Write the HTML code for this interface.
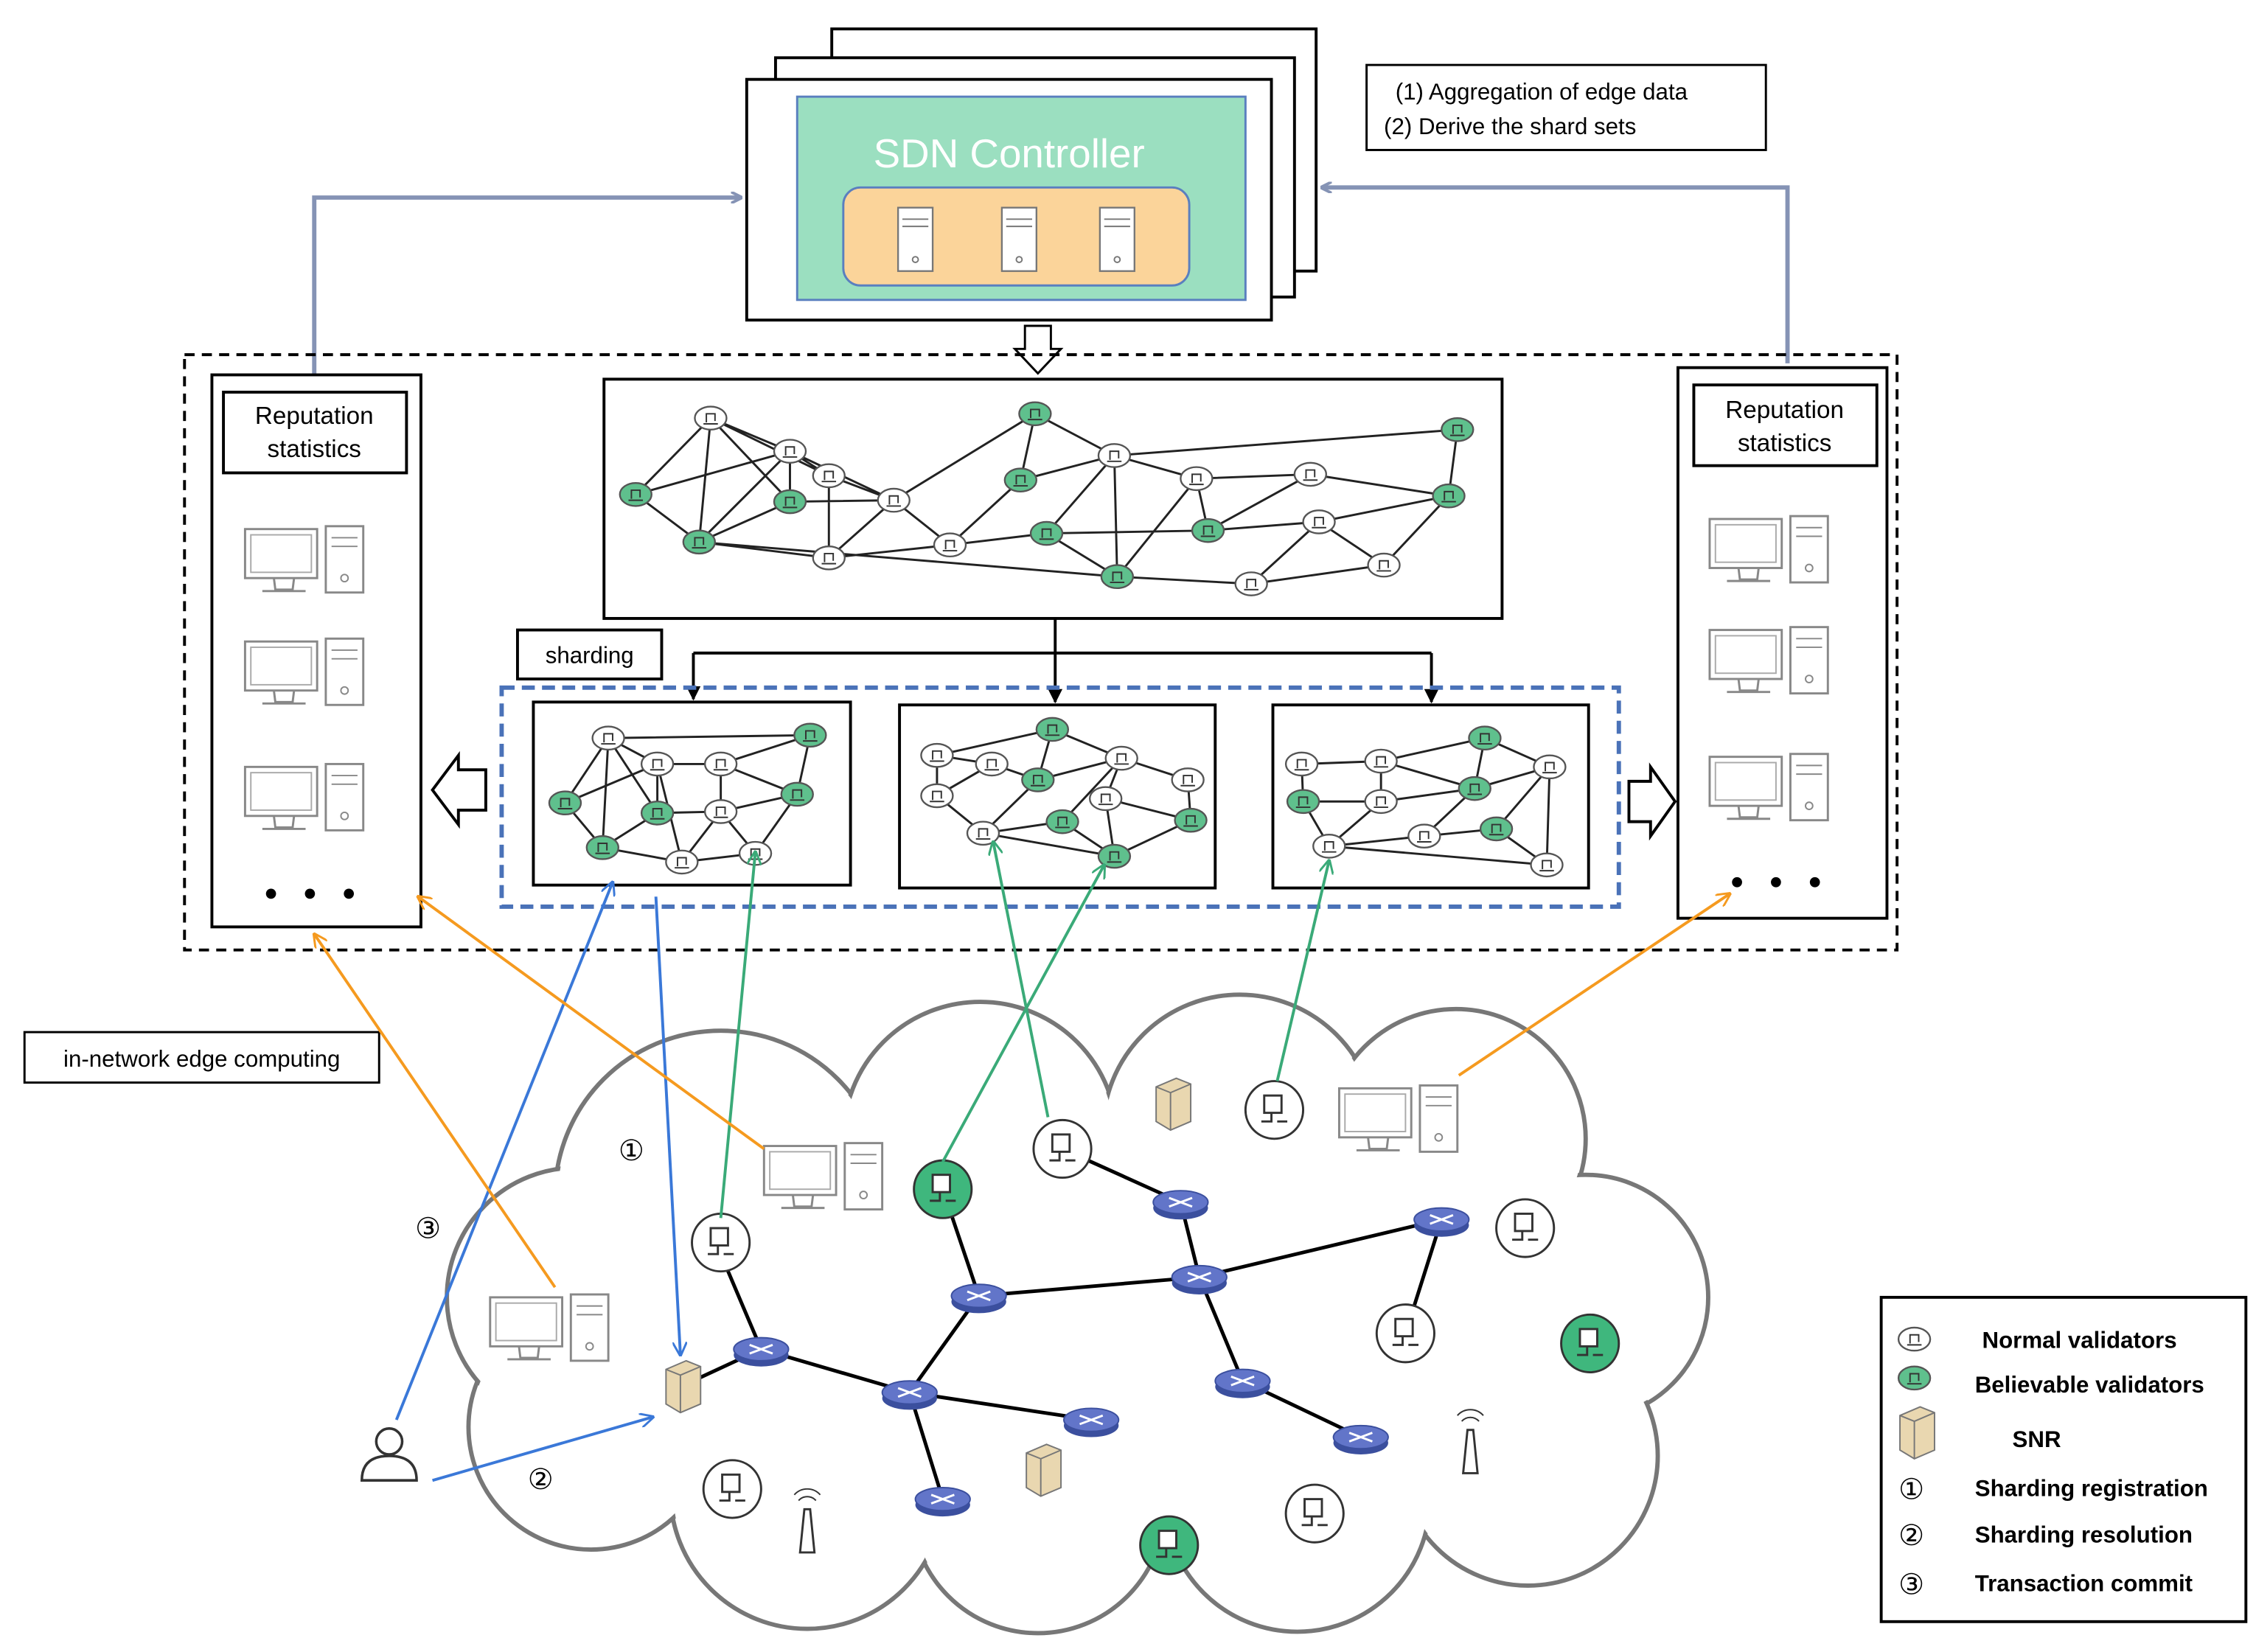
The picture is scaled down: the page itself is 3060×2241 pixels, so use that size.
<!DOCTYPE html>
<html><head><meta charset="utf-8"><style>
html,body{margin:0;padding:0;background:#fff}
svg{display:block}
text{font-family:"Liberation Sans",Arial,sans-serif}
</style></head><body>
<svg width="3060" height="2241" viewBox="0 0 1565 1146" xmlns="http://www.w3.org/2000/svg">
<defs>
<marker id="ag" markerWidth="8" markerHeight="8" refX="7" refY="4" orient="auto" markerUnits="userSpaceOnUse"><path d="M0,0 L8,4 L0,8" fill="none" stroke="#8593b5" stroke-width="2"/></marker>
<marker id="ab" markerWidth="10" markerHeight="10" refX="9" refY="5" orient="auto" markerUnits="userSpaceOnUse"><path d="M0,0 L10,5 L0,10" fill="none" stroke="#3a78d8" stroke-width="1.5"/></marker>
<marker id="agr" markerWidth="10" markerHeight="10" refX="9" refY="5" orient="auto" markerUnits="userSpaceOnUse"><path d="M0,0 L10,5 L0,10" fill="none" stroke="#3aaa78" stroke-width="1.5"/></marker>
<marker id="ao" markerWidth="10" markerHeight="10" refX="9" refY="5" orient="auto" markerUnits="userSpaceOnUse"><path d="M0,0 L10,5 L0,10" fill="none" stroke="#f59a1f" stroke-width="1.5"/></marker>
<marker id="ak" markerWidth="10" markerHeight="10" refX="9" refY="5" orient="auto" markerUnits="userSpaceOnUse"><path d="M0,0 L10,5 L0,10 Z" fill="#000"/></marker>
<g id="srv"><rect x="-12" y="-22" width="24" height="44" fill="#fff" stroke="#777" stroke-width="1.2"/><line x1="-9" y1="-14" x2="9" y2="-14" stroke="#777"/><line x1="-9" y1="-9" x2="9" y2="-9" stroke="#777"/><circle cx="0" cy="14" r="2" fill="none" stroke="#777"/></g>
<g id="pc"><rect x="-38" y="-20" width="50" height="34" fill="#fff" stroke="#888" stroke-width="1.5"/><rect x="-34" y="-16" width="42" height="26" fill="none" stroke="#aaa"/><path d="M-18,14 L-17,22 L-5,22 L-4,14 M-26,23 L4,23" fill="none" stroke="#888" stroke-width="1.5"/><rect x="18" y="-22" width="26" height="46" fill="#fff" stroke="#888" stroke-width="1.5"/><line x1="22" y1="-14" x2="40" y2="-14" stroke="#888"/><line x1="22" y1="-8" x2="40" y2="-8" stroke="#888"/><circle cx="31" cy="14" r="2.5" fill="none" stroke="#888"/></g>
<g id="nn"><ellipse rx="11" ry="8" fill="#fff" stroke="#555" stroke-width="1.2"/><path d="M-3,3 L-3,-3 L3,-3 L3,2 M-5,4 L5,4" fill="none" stroke="#333"/></g>
<g id="gn"><ellipse rx="11" ry="8" fill="#5fc08d" stroke="#555" stroke-width="1.2"/><path d="M-3,3 L-3,-3 L3,-3 L3,2 M-5,4 L5,4" fill="none" stroke="#333"/></g>
<g id="cn"><circle r="20" fill="#fff" stroke="#333" stroke-width="1.5"/><rect x="-7" y="-10" width="12" height="12" fill="#fff" stroke="#333" stroke-width="1.5"/><path d="M-2,2 L-2,8 L-9,8 M2,8 L9,8" fill="none" stroke="#333" stroke-width="1.5"/></g>
<g id="cg"><circle r="20" fill="#3fb77d" stroke="#333" stroke-width="1.5"/><rect x="-7" y="-10" width="12" height="12" fill="#fff" stroke="#333" stroke-width="1.5"/><path d="M-2,2 L-2,8 L-9,8 M2,8 L9,8" fill="none" stroke="#333" stroke-width="1.5"/></g>
<g id="rt"><ellipse cx="0" cy="4" rx="19" ry="8" fill="#3b4f9e"/><ellipse cx="0" cy="0" rx="19" ry="8" fill="#6275c9" stroke="#3b4f9e"/><path d="M-8,-3 L8,3 M-8,3 L8,-3" stroke="#fff" stroke-width="1.5"/></g>
<g id="snr"><path d="M-10,-12 L4,-18 L14,-14 L14,12 L0,18 L-10,12 Z" fill="#e9d7b0" stroke="#777"/><path d="M-10,-12 L0,-8 L14,-14 M0,-8 L0,18" fill="none" stroke="#777"/></g>
<g id="ant"><path d="M-5,22 L-2,-8 L2,-8 L5,22 Z" fill="#fff" stroke="#333" stroke-width="1.5"/><path d="M-6,-14 A8,8 0 0 1 6,-14 M-9,-18 A12,12 0 0 1 9,-18" fill="none" stroke="#333"/></g>
</defs>

<rect x="577" y="20" width="336" height="168" fill="#fff" stroke="#000" stroke-width="2"/>
<rect x="538" y="40" width="360" height="166" fill="#fff" stroke="#000" stroke-width="2"/>
<rect x="518" y="55" width="364" height="167" fill="#fff" stroke="#000" stroke-width="2"/>
<rect x="553" y="67" width="311" height="141" fill="#9bdfc0" stroke="#5a7fbf" stroke-width="1.5"/>
<text x="700" y="116" font-size="28" fill="#fff" text-anchor="middle">SDN Controller</text>
<rect x="585" y="130" width="240" height="68" rx="12" fill="#fbd49a" stroke="#5a7fbf" stroke-width="1.5"/>
<use href="#srv" x="635" y="166"/><use href="#srv" x="707" y="166"/><use href="#srv" x="775" y="166"/>

<rect x="948" y="45" width="277" height="59" fill="#fff" stroke="#000" stroke-width="1.5"/>
<text x="968" y="69" font-size="16">(1)  Aggregation of edge data</text>
<text x="960" y="93" font-size="16">(2)   Derive the shard sets</text>

<path d="M218,262 L218,137 L514,137" fill="none" stroke="#8593b5" stroke-width="3" marker-end="url(#ag)"/>
<path d="M1240,252 L1240,130 L917,130" fill="none" stroke="#8593b5" stroke-width="3" marker-end="url(#ag)"/>
<path d="M711,226 L729,226 L729,242 L736,242 L720,259 L704,242 L711,242 Z" fill="#fff" stroke="#000" stroke-width="1.5"/>

<rect x="128" y="246" width="1188" height="413" fill="none" stroke="#000" stroke-width="2" stroke-dasharray="7,5"/>

<rect x="147" y="260" width="145" height="383" fill="#fff" stroke="#000" stroke-width="2"/>
<rect x="155" y="272" width="127" height="56" fill="#fff" stroke="#000" stroke-width="2"/>
<text x="218" y="294" font-size="17" text-anchor="middle">Reputation</text>
<text x="218" y="317" font-size="17" text-anchor="middle">statistics</text>
<use href="#pc" x="208" y="387"/><use href="#pc" x="208" y="465"/><use href="#pc" x="208" y="552"/>
<circle cx="188" cy="620" r="3.5"/><circle cx="215" cy="620" r="3.5"/><circle cx="242" cy="620" r="3.5"/>
<rect x="1164" y="255" width="145" height="382" fill="#fff" stroke="#000" stroke-width="2"/>
<rect x="1175" y="267" width="127" height="56" fill="#fff" stroke="#000" stroke-width="2"/>
<text x="1238" y="290" font-size="17" text-anchor="middle">Reputation</text>
<text x="1238" y="313" font-size="17" text-anchor="middle">statistics</text>
<use href="#pc" x="1224" y="380"/><use href="#pc" x="1224" y="457"/><use href="#pc" x="1224" y="545"/>
<circle cx="1205" cy="612" r="3.5"/><circle cx="1232" cy="612" r="3.5"/><circle cx="1259" cy="612" r="3.5"/>

<rect x="419" y="263" width="623" height="166" fill="#fff" stroke="#000" stroke-width="2"/>
<g stroke="#222" stroke-width="1.5">
<path d="M493,290L441,343M493,290L485,376M493,290L548,313M493,290L548,348M493,290L575,330M441,343L485,376M441,343L548,313M485,376L548,348M485,376L575,387M485,376L548,313M548,313L548,348M548,313L575,330M548,313L620,347M548,348L620,347M575,330L620,347M620,347L718,287M620,347L659,378M575,387L620,347M575,387L659,378M659,378L708,333M659,378L726,370M718,287L708,333M718,287L773,316M708,333L773,316M726,370L773,316M773,316L775,400M773,316L830,332M775,400L726,370M775,400L868,405M775,400L830,332M830,332L838,368M830,332L909,329M838,368L915,362M838,368L909,329M915,362L868,405M915,362L960,392M915,362L1005,344M909,329L1005,344M868,405L960,392M960,392L1005,344M1005,344L1011,298M773,316L1011,298M485,376L775,400M575,387L575,330M726,370L838,368"/>
</g>
<use href="#nn" x="493" y="290"/><use href="#gn" x="441" y="343"/><use href="#gn" x="485" y="376"/><use href="#nn" x="548" y="313"/><use href="#gn" x="548" y="348"/><use href="#nn" x="575" y="330"/><use href="#nn" x="620" y="347"/><use href="#nn" x="575" y="387"/><use href="#nn" x="659" y="378"/><use href="#gn" x="718" y="287"/><use href="#gn" x="708" y="333"/><use href="#gn" x="726" y="370"/><use href="#nn" x="773" y="316"/><use href="#gn" x="775" y="400"/><use href="#nn" x="830" y="332"/><use href="#gn" x="838" y="368"/><use href="#nn" x="909" y="329"/><use href="#nn" x="915" y="362"/><use href="#nn" x="868" y="405"/><use href="#nn" x="960" y="392"/><use href="#gn" x="1005" y="344"/><use href="#gn" x="1011" y="298"/>

<rect x="359" y="437" width="100" height="34" fill="#fff" stroke="#000" stroke-width="2"/>
<text x="409" y="460" font-size="16" text-anchor="middle">sharding</text>
<path d="M732,429 L732,453 M481,453 L993,453" stroke="#000" stroke-width="2" fill="none"/>
<path d="M481,453 L481,485" stroke="#000" stroke-width="2" marker-end="url(#ak)"/>
<path d="M732,453 L732,487" stroke="#000" stroke-width="2" marker-end="url(#ak)"/>
<path d="M993,453 L993,487" stroke="#000" stroke-width="2" marker-end="url(#ak)"/>
<rect x="348" y="477" width="775" height="152" fill="none" stroke="#4a72b8" stroke-width="3" stroke-dasharray="9,5"/>
<rect x="370" y="487" width="220" height="127" fill="#fff" stroke="#000" stroke-width="2"/>
<rect x="624" y="489" width="219" height="127" fill="#fff" stroke="#000" stroke-width="2"/>
<rect x="883" y="489" width="219" height="127" fill="#fff" stroke="#000" stroke-width="2"/>
<g stroke="#222" stroke-width="1.5">
<path d="M422,512L562,510M422,512L392,557M422,512L456,530M422,512L418,588M422,512L456,564M562,510L500,530M562,510L553,551M392,557L456,530M392,557L418,588M456,530L500,530M456,530L456,564M456,530L473,598M500,530L500,563M500,530L553,551M456,564L500,563M456,564L418,588M500,563L553,551M500,563L524,592M500,563L473,598M418,588L473,598M473,598L524,592M553,551L524,592"/>
<path d="M730,506L650,524M730,506L778,526M730,506L720,541M650,524L688,530M650,524L650,552M688,530L720,541M688,530L650,552M720,541L778,526M778,526L824,541M778,526L767,554M778,526L737,570M824,541L826,569M650,552L682,578M720,541L682,578M767,554L773,594M737,570L682,578M737,570L773,594M826,569L773,594M682,578L773,594M767,554L826,569"/>
<path d="M903,530L958,528M958,528L1030,512M1030,512L1075,532M903,530L904,556M958,528L958,556M958,528L1023,547M904,556L958,556M904,556L922,587M958,556L922,587M958,556L1023,547M1023,547L1075,532M1023,547L988,580M1075,532L1038,575M1075,532L1073,600M922,587L988,580M922,587L1073,600M988,580L1038,575M1038,575L1073,600M1030,512L1023,547"/>
</g>
<use href="#nn" x="422" y="512"/><use href="#gn" x="562" y="510"/><use href="#gn" x="392" y="557"/><use href="#nn" x="456" y="530"/><use href="#nn" x="500" y="530"/><use href="#gn" x="456" y="564"/><use href="#nn" x="500" y="563"/><use href="#gn" x="553" y="551"/><use href="#gn" x="418" y="588"/><use href="#nn" x="473" y="598"/><use href="#nn" x="524" y="592"/>
<use href="#gn" x="730" y="506"/><use href="#nn" x="650" y="524"/><use href="#nn" x="688" y="530"/><use href="#gn" x="720" y="541"/><use href="#nn" x="778" y="526"/><use href="#nn" x="824" y="541"/><use href="#nn" x="650" y="552"/><use href="#nn" x="767" y="554"/><use href="#gn" x="826" y="569"/><use href="#gn" x="737" y="570"/><use href="#nn" x="682" y="578"/><use href="#gn" x="773" y="594"/>
<use href="#nn" x="903" y="530"/><use href="#nn" x="958" y="528"/><use href="#gn" x="1030" y="512"/><use href="#nn" x="1075" y="532"/><use href="#gn" x="904" y="556"/><use href="#nn" x="958" y="556"/><use href="#gn" x="1023" y="547"/><use href="#nn" x="922" y="587"/><use href="#nn" x="988" y="580"/><use href="#gn" x="1038" y="575"/><use href="#nn" x="1073" y="600"/>

<path d="M337,534 L318,534 L318,524 L300,548 L318,572 L318,562 L337,562 Z" fill="#fff" stroke="#000" stroke-width="2"/>
<path d="M1130,542 L1145,542 L1145,532 L1162,556 L1145,580 L1145,570 L1130,570 Z" fill="#fff" stroke="#000" stroke-width="2"/>

<rect x="17" y="716" width="246" height="35" fill="#fff" stroke="#000" stroke-width="1.5"/>
<text x="140" y="740" font-size="16" text-anchor="middle">in-network  edge computing</text>

<g fill="#fff" stroke="#777" stroke-width="3">
<circle cx="500" cy="830" r="115"/><circle cx="680" cy="790" r="95"/><circle cx="860" cy="785" r="95"/><circle cx="1010" cy="790" r="90"/><circle cx="1100" cy="900" r="85"/><circle cx="1060" cy="1010" r="90"/><circle cx="900" cy="1040" r="92"/><circle cx="720" cy="1045" r="88"/><circle cx="560" cy="1035" r="95"/><circle cx="410" cy="990" r="85"/><circle cx="400" cy="900" r="90"/><circle cx="760" cy="920" r="150"/><circle cx="950" cy="900" r="130"/><circle cx="580" cy="930" r="130"/>
</g>
<g fill="#fff">
<circle cx="500" cy="830" r="113"/><circle cx="680" cy="790" r="93"/><circle cx="860" cy="785" r="93"/><circle cx="1010" cy="790" r="88"/><circle cx="1100" cy="900" r="83"/><circle cx="1060" cy="1010" r="88"/><circle cx="900" cy="1040" r="90"/><circle cx="720" cy="1045" r="86"/><circle cx="560" cy="1035" r="93"/><circle cx="410" cy="990" r="83"/><circle cx="400" cy="900" r="88"/><circle cx="760" cy="920" r="148"/><circle cx="950" cy="900" r="128"/><circle cx="580" cy="930" r="128"/>
</g>

<g stroke="#000" stroke-width="2.5" fill="none">
<path d="M500,870L528,936L631,966L679,899L832,886L1000,846L975,925M737,797L819,834L832,886L862,958L944,997M631,966L757,985M631,966L654,1040M472,962L528,936M654,825L679,899"/>
</g>
<use href="#rt" x="528" y="936"/><use href="#rt" x="631" y="966"/><use href="#rt" x="679" y="899"/><use href="#rt" x="819" y="834"/><use href="#rt" x="832" y="886"/><use href="#rt" x="1000" y="846"/><use href="#rt" x="862" y="958"/><use href="#rt" x="757" y="985"/><use href="#rt" x="944" y="997"/><use href="#rt" x="654" y="1040"/>
<use href="#cn" x="500" y="862"/><use href="#cg" x="654" y="825"/><use href="#cn" x="737" y="797"/><use href="#cn" x="884" y="770"/><use href="#cn" x="1058" y="852"/><use href="#cn" x="975" y="925"/><use href="#cg" x="1103" y="932"/><use href="#cn" x="508" y="1033"/><use href="#cg" x="811" y="1072"/><use href="#cn" x="912" y="1050"/>
<use href="#pc" x="568" y="815"/><use href="#pc" x="378" y="920"/><use href="#pc" x="967" y="775"/>
<use href="#snr" x="472" y="962"/><use href="#snr" x="812" y="766"/><use href="#snr" x="722" y="1020"/>
<use href="#ant" x="560" y="1055"/><use href="#ant" x="1020" y="1000"/>
<g fill="#fff" stroke="#333" stroke-width="1.8"><circle cx="270" cy="1000" r="9"/><path d="M251,1027 Q251,1010 270,1010 Q289,1010 289,1027 Z"/></g>

<path d="M275,985 L425,612" stroke="#3a78d8" stroke-width="2" marker-end="url(#ab)"/>
<path d="M455,622 L472,940" stroke="#3a78d8" stroke-width="2" marker-end="url(#ab)"/>
<path d="M300,1027 L453,983" stroke="#3a78d8" stroke-width="2" marker-end="url(#ab)"/>
<path d="M500,845 L524,591" stroke="#3aaa78" stroke-width="2" marker-end="url(#agr)"/>
<path d="M654,806 L766,600" stroke="#3aaa78" stroke-width="2" marker-end="url(#agr)"/>
<path d="M727,775 L689,584" stroke="#3aaa78" stroke-width="2" marker-end="url(#agr)"/>
<path d="M886,750 L922,597" stroke="#3aaa78" stroke-width="2" marker-end="url(#agr)"/>
<path d="M530,797 L290,622" stroke="#f59a1f" stroke-width="2" marker-end="url(#ao)"/>
<path d="M385,893 L218,648" stroke="#f59a1f" stroke-width="2" marker-end="url(#ao)"/>
<path d="M1012,746 L1200,620" stroke="#f59a1f" stroke-width="2" marker-end="url(#ao)"/>
<text x="438" y="805" font-size="20" text-anchor="middle">①</text>
<text x="297" y="859" font-size="20" text-anchor="middle">③</text>
<text x="375" y="1033" font-size="20" text-anchor="middle">②</text>

<rect x="1305" y="900" width="253" height="225" fill="#fff" stroke="#000" stroke-width="2"/>
<use href="#nn" x="1328" y="929"/><use href="#gn" x="1328" y="956"/><use href="#snr" x="1328" y="994"/>
<text x="1326" y="1040" font-size="20" text-anchor="middle">①</text>
<text x="1326" y="1072" font-size="20" text-anchor="middle">②</text>
<text x="1326" y="1106" font-size="20" text-anchor="middle">③</text>
<g font-size="16" font-weight="bold">
<text x="1375" y="935">Normal validators</text>
<text x="1370" y="966">Believable validators</text>
<text x="1396" y="1004">SNR</text>
<text x="1370" y="1038">Sharding registration</text>
<text x="1370" y="1070">Sharding resolution</text>
<text x="1370" y="1104">Transaction commit</text>
</g>
</svg>
</body></html>
